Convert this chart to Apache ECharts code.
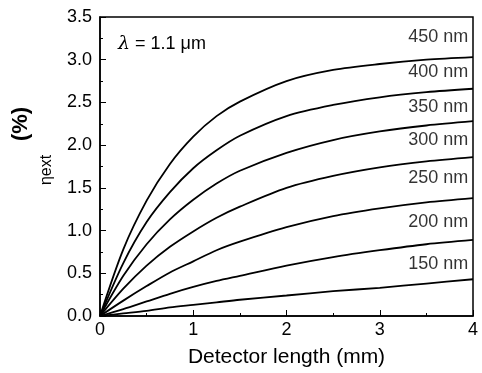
<!DOCTYPE html>
<html>
<head>
<meta charset="utf-8">
<script src="https://cdn.jsdelivr.net/npm/echarts@6/dist/echarts.min.js"></script>
<style>
  html, body { margin: 0; padding: 0; background: #fff; }
  #chart { width: 482px; height: 373px; }
</style>
</head>
<body>
<div id="chart"></div>
<script>
// detector length (mm)
const xs = [0, 0.25, 0.5, 0.75, 1, 1.25, 1.5, 2, 2.5, 3, 3.5, 4];

// external efficiency (%) per thickness
const eta450 = [0, 0.78, 1.35, 1.78, 2.10, 2.34, 2.51, 2.75, 2.88, 2.95, 3.00, 3.03];
const eta400 = [0, 0.62, 1.10, 1.45, 1.73, 1.94, 2.11, 2.34, 2.47, 2.56, 2.62, 2.66];
const eta350 = [0, 0.47, 0.84, 1.13, 1.36, 1.55, 1.70, 1.91, 2.06, 2.16, 2.23, 2.28];
const eta300 = [0, 0.32, 0.59, 0.81, 0.99, 1.15, 1.28, 1.50, 1.64, 1.74, 1.81, 1.86];
const eta250 = [0, 0.18, 0.35, 0.51, 0.64, 0.77, 0.87, 1.04, 1.17, 1.26, 1.33, 1.38];
const eta200 = [0, 0.08, 0.17, 0.26, 0.34, 0.41, 0.47, 0.59, 0.69, 0.77, 0.84, 0.89];
const eta150 = [0, 0.03, 0.06, 0.10, 0.13, 0.16, 0.19, 0.24, 0.29, 0.33, 0.38, 0.43];

const curveNames = ["450 nm", "400 nm", "350 nm", "300 nm", "250 nm", "200 nm", "150 nm"];
const curves = [eta450, eta400, eta350, eta300, eta250, eta200, eta150];

// where the curve names sit (x, y in data units)
const labelX = 3.95;
const labelY = [3.26, 2.85, 2.45, 2.06, 1.62, 1.10, 0.61];

const font = "Liberation Sans, Arial, sans-serif";

const chart = echarts.init(document.getElementById("chart"));

const lineSeries = curves.map((vals, i) => ({
  name: curveNames[i],
  type: "line",
  data: xs.map((x, j) => [x, vals[j]]),
  smooth: 0.3,
  showSymbol: false,
  lineStyle: { color: "#000", width: 1.8 },
  animation: false,
}));

const labelSeries = {
  type: "scatter",
  symbolSize: 0,
  data: curveNames.map((n, i) => ({ value: [labelX, labelY[i]], name: n })),
  label: {
    show: true,
    position: "left",
    distance: 0,
    formatter: (p) => p.name,
    color: "#000",
    textBorderWidth: 0,
    fontSize: 18,
    fontFamily: font,
  },
  animation: false,
  silent: true,
};

chart.setOption({
  animation: false,
  grid: {
    left: 100, right: 9, top: 17, bottom: 53,
    show: true, borderColor: "#000", borderWidth: 1.5,
  },
  xAxis: {
    type: "value",
    min: 0, max: 4, interval: 1,
    name: "Detector length (mm)",
    nameLocation: "middle",
    nameGap: 31,
    nameTextStyle: { fontSize: 21, fontFamily: font, color: "#000" },
    axisLine: { lineStyle: { color: "#000", width: 1.5 } },
    axisTick: { inside: true, length: 6, lineStyle: { color: "#000" } },
    minorTick: { show: true, splitNumber: 2, length: 3, lineStyle: { color: "#000" } },
    axisLabel: { fontSize: 18, fontFamily: font, color: "#000", margin: 5 },
    splitLine: { show: false },
  },
  yAxis: {
    type: "value",
    min: 0, max: 3.5, interval: 0.5,
    axisLine: { show: true, lineStyle: { color: "#000", width: 1.5 } },
    axisTick: { show: true, inside: true, length: 6, lineStyle: { color: "#000" } },
    minorTick: { show: true, splitNumber: 2, length: 3, lineStyle: { color: "#000" } },
    axisLabel: {
      fontSize: 18, fontFamily: font, color: "#000", margin: 8,
      formatter: (v) => v.toFixed(1),
    },
    splitLine: { show: false },
  },
  graphic: [
    {
      type: "text", left: 118, top: 35,
      style: {
        text: "{l|λ} = 1.1 μm",
        fontSize: 18, fontFamily: font, fill: "#000",
        rich: { l: { fontSize: 19, fontStyle: "italic", fontFamily: "DejaVu Serif, serif" } },
      },
    },
    {
      type: "text", x: 21, y: 124, rotation: Math.PI / 2,
      style: {
        text: "(%)", fontSize: 22, fontWeight: "bold", fontFamily: font,
        fill: "#000", align: "center", verticalAlign: "middle",
      },
    },
    {
      type: "text", x: 47, y: 170, rotation: Math.PI / 2,
      style: {
        text: "ηext", fontSize: 16, fontFamily: font,
        fill: "#000", align: "center", verticalAlign: "middle",
      },
    },
  ],
  series: [...lineSeries, labelSeries],
});
</script>
</body>
</html>
